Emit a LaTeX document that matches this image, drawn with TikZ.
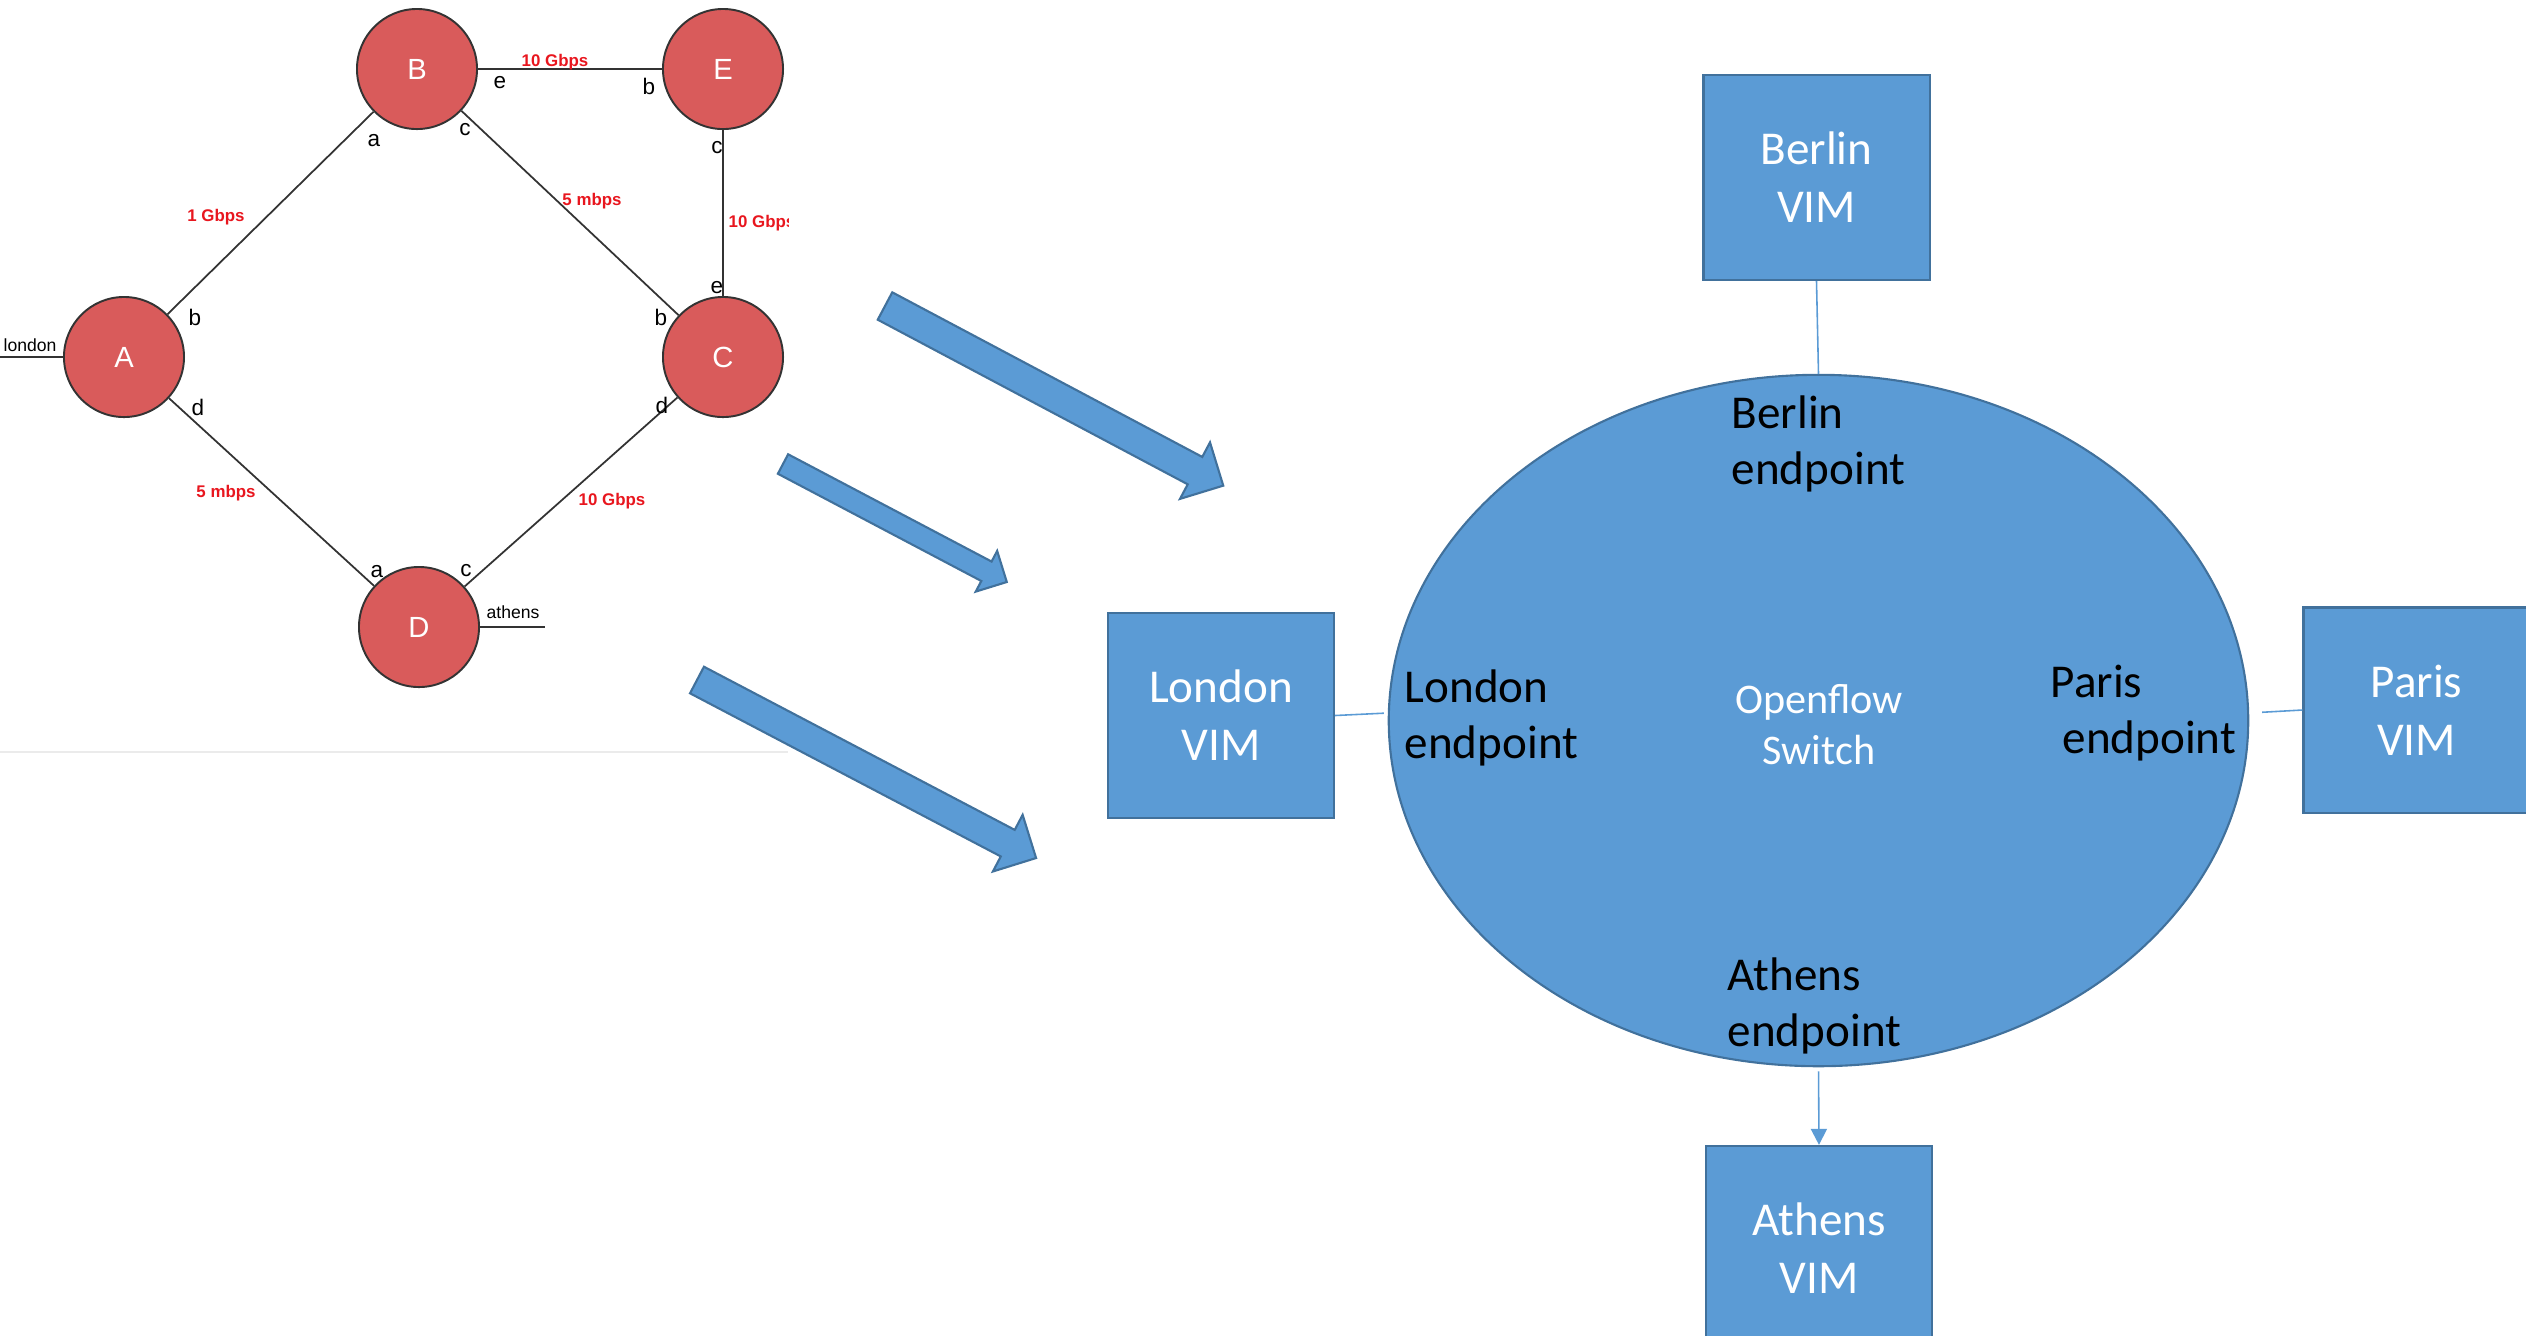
\documentclass[tikz,border=0pt]{standalone}
\usepackage{fontspec}
\setmainfont{Carlito}
\newfontfamily\graphfont{Liberation Sans}
\usetikzlibrary{shapes.geometric,arrows.meta}

\definecolor{vimblue}{HTML}{5B9BD5}
\definecolor{vimline}{HTML}{41719C}
\definecolor{routerred}{HTML}{D95B5B}
\definecolor{linkred}{HTML}{E8161E}
\definecolor{wire}{HTML}{333333}
\definecolor{edgegray}{HTML}{EBEBEB}

% block arrow: tail centre x, tail centre y, rotation, length, shaft half width, head half width
\newcommand\blockarrow[6]{%
  \begin{scope}[shift={(#1,#2)}, rotate=#3]
    \draw[blockarr] (0,-#5) -- ({#4-#6},-#5) -- ({#4-#6},-#6) -- (#4,0)
      -- ({#4-#6},#6) -- ({#4-#6},#5) -- (0,#5) -- cycle;
  \end{scope}}

\begin{document}
\begin{tikzpicture}[x=0.01cm,y=-0.01cm,
  router/.style={circle, draw=wire, line width=0.55pt, fill=routerred,
    minimum size=1.2cm, inner sep=0pt, text=white,
    font=\graphfont\fontsize{8.3}{10}\selectfont},
  port/.style={inner sep=0pt, font=\graphfont\fontsize{6.4}{7.5}\selectfont},
  site/.style={inner sep=0pt, font=\graphfont\fontsize{5}{6}\selectfont},
  rate/.style={inner sep=0pt, text=linkred,
    font=\graphfont\bfseries\fontsize{4.8}{6}\selectfont},
  link/.style={draw=wire, line width=0.5pt},
  vim/.style={rectangle, draw=vimline, line width=0.6pt, fill=vimblue,
    minimum width=2.26cm, minimum height=2.05cm, inner sep=0pt,
    text=white, align=center, font=\fontsize{13.4}{16.5}\selectfont},
  endpt/.style={inner sep=0pt, align=left, anchor=west,
    font=\fontsize{13.4}{15.7}\selectfont},
  feed/.style={draw=vimblue, line width=0.45pt},
  blockarr/.style={fill=vimblue, draw=vimline, line width=0.6pt, line join=miter}
]
\useasboundingbox (0,0) rectangle (2526,1335);
\clip (0,0) rectangle (2526,1335);

% ---------------- physical topology ----------------
\begin{scope}
\clip (0,0) rectangle (788,752);
\node[router] (B) at (417,69) {B};
\node[router] (E) at (723,69) {E};
\node[router] (A) at (124,357) {A};
\node[router] (C) at (723,357) {C};
\node[router] (D) at (419,627) {D};

\coordinate (lonend) at (0,357);
\coordinate (athend) at (545,627);

\draw[link] (A) -- (B);
\draw[link] (B) -- (E);
\draw[link] (B) -- (C);
\draw[link] (E) -- (C);
\draw[link] (A) -- (D);
\draw[link] (D) -- (C);
\draw[link] (lonend) -- (A);
\draw[link] (D) -- (athend);

\node[site] (lonlbl) at (30,345) {london};
\node[site] (athlbl) at (513,612) {athens};

% port names
\node[port] (Ba) at (374,141) {a};
\node[port] (Bc) at (465,130) {c};
\node[port] (Be) at (500,83) {e};
\node[port] (Eb) at (649,86) {b};
\node[port] (Ec) at (717,148) {c};
\node[port] (Ab) at (195,317) {b};
\node[port] (Ad) at (198,407) {d};
\node[port] (Cb) at (661,317) {b};
\node[port] (Ce) at (717,288) {e};
\node[port] (Cd) at (662,405) {d};
\node[port] (Da) at (377,572) {a};
\node[port] (Dc) at (466,571) {c};

% link capacities
\node[rate] (rBE) at (555,62) {10 Gbps};
\node[rate] (rAB) at (216,217) {1 Gbps};
\node[rate] (rBC) at (592,201) {5 mbps};
\node[rate, anchor=west] (rEC) at (728,223) {10 Gbps};
\node[rate] (rAD) at (226,493) {5 mbps};
\node[rate] (rDC) at (612,501) {10 Gbps};
\end{scope}
\draw[edgegray, line width=0.4pt] (0,752) -- (788,752);

% ---------------- mapping arrows ----------------
\blockarrow{885}{306}{-27.97}{383}{15.5}{32}
\blockarrow{783}{464}{-27.8}{253}{11}{23}
\blockarrow{697}{680}{-27.7}{383}{15}{32}

% ---------------- virtual switch view ----------------
\node[ellipse, draw=vimline, line width=0.6pt, fill=vimblue,
      minimum width=8.59cm, minimum height=6.91cm, inner sep=0pt] (sw) at (1818.5,720.5) {};
\node[inner sep=0pt, text=white, align=center, font=\fontsize{12}{14.5}\selectfont]
  (ofs) at (1819,725) {Openflow\\Switch};

\node[vim] (bvim) at (1816.5,177.5) {Berlin\\VIM};
\node[vim] (lvim) at (1221,715.5) {London\\VIM};
\node[vim] (pvim) at (2416.5,710) {Paris\\VIM};
\node[vim] (avim) at (1819,1248.5) {Athens\\VIM};

\draw[feed] (bvim.south) -- (sw.north);
\draw[feed, shorten >=0.04cm] (lvim.east) -- (sw.179);
\draw[feed, shorten <=0.13cm] (sw.1) -- (pvim.west);
\draw[feed, -{Triangle[length=0.16cm,width=0.16cm]}, shorten <=0.04cm] (sw.south) -- (avim.north);

\node[endpt] (bep) at (1731,444) {Berlin\\endpoint};
\node[endpt] (lep) at (1404,718) {London\\endpoint};
\node[endpt] (pep) at (2050,713) {Paris\\\hspace*{3.4pt}endpoint};
\node[endpt] (aep) at (1727,1006) {Athens\\endpoint};
\end{tikzpicture}
\end{document}
